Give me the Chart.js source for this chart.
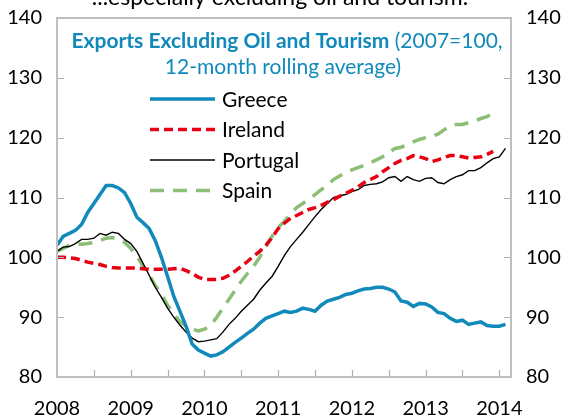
<!DOCTYPE html>
<html>
<head>
<meta charset="utf-8">
<script src="https://cdn.jsdelivr.net/npm/chart.js@4.4.1/dist/chart.umd.min.js"></script>
<style>
    html, body { margin: 0; padding: 0; background: #fff; }
    #wrap { width: 565px; height: 417px; }
</style>
</head>
<body>
<div id="wrap"><canvas id="exports-chart" width="565" height="417"></canvas></div>
<script>
    "use strict";

    // Year tick labels (one every 12 months, starting Jan 2008)
    const years = ["2008", "2009", "2010", "2011", "2012", "2013", "2014"];

    // Monthly values, Jan 2008 onwards (2007 = 100, 12-month rolling average)
    const greece = [
        102, 103.5, 104, 104.5, 105.5, 107.5, 109, 110.5, 112, 112, 111.6, 110.8,
        109, 106.7, 105.8, 104.8, 102.8, 100, 96.8, 93.5, 91, 88.5, 85.5, 84.5,
        84, 83.5, 83.7, 84.2, 85, 85.8, 86.5, 87.3, 88, 89, 89.8, 90.2,
        90.6, 91, 90.8, 91, 91.5, 91.3, 91, 92, 92.7, 93, 93.3, 93.8,
        94, 94.4, 94.7, 94.8, 95, 95, 94.7, 94.2, 92.7, 92.5, 91.8, 92.3,
        92.2, 91.7, 90.8, 90.6, 89.8, 89.3, 89.5, 88.8, 89, 89.2, 88.6, 88.5,
        88.5, 88.8
    ];
    const ireland = [
        100, 100, 99.9, 99.8, 99.5, 99.2, 99, 98.8, 98.5, 98.3, 98.2, 98.2,
        98.2, 98.2, 98.1, 98, 98, 98, 98, 98.1, 98.2, 97.8, 97.3, 96.7,
        96.3, 96.3, 96.3, 96.5, 97, 97.7, 98.5, 99.3, 100.2, 101, 102, 103.3,
        104.8, 105.7, 106.5, 107, 107.5, 108, 108.3, 108.7, 109.2, 109.6, 110.2, 110.7,
        111.2, 111.8, 112.5, 113, 113.5, 114.3, 115, 115.7, 116.2, 116.5, 117, 116.8,
        116.5, 116, 116.3, 116.7, 117, 117, 116.8, 116.6, 116.7, 116.8, 117.2, 117.7
    ];
    const portugal = [
        101, 101.7, 101.8, 102.3, 103, 103, 103.2, 104, 103.7, 104.2, 104, 103,
        102.3, 101, 99, 97, 95, 93.3, 91.5, 90, 88.7, 87.5, 86.5, 85.9,
        86, 86.2, 86.4, 87.5, 88.8, 89.8, 91, 92, 93, 94.5, 95.7, 96.8,
        98.5, 100.3, 101.8, 103, 104.2, 105.5, 106.8, 108, 109, 110, 110.3, 110.5,
        111, 111.3, 112, 112.2, 112.3, 112.6, 113.3, 113.5, 112.7, 113.5, 113, 112.7,
        113.2, 113.3, 112.5, 112.3, 113, 113.5, 113.8, 114.5, 114.5, 115, 115.8, 116.5,
        116.8, 118.2
    ];
    const spain = [
        101, 101.5, 102, 102.2, 102.2, 102.3, 102.5, 102.8, 103.2, 103.3, 103, 102.5,
        101.5, 100.2, 98.5, 97, 95.3, 93.8, 92, 90.5, 89.3, 88.5, 88, 87.7,
        88, 88.6, 90, 91.5, 93, 94.5, 96, 97.3, 98.5, 100, 101.8, 103.5,
        105, 106, 107.2, 108.3, 109, 109.7, 110.5, 111.3, 112, 113, 113.6, 114.2,
        114.6, 115, 115.4, 115.8, 116.3, 116.8, 117.5, 118.2, 118.4, 118.8, 119.3, 119.7,
        120, 120.2, 120.6, 121.3, 122, 122.2, 122.2, 122.5, 122.8, 123.2, 123.5, 124.2
    ];

    const FONT = "Lato, 'Open Sans', sans-serif";
    const TEAL = "#118abb";

    const toPoints = function (arr) {
        return arr.map(function (v, i) { return {x: i, y: v}; });
    };

    const series = [
        {label: "Greece", data: greece, color: TEAL, width: 3.5, dash: []},
        {label: "Ireland", data: ireland, color: "#e60012", width: 3.5, dash: [9, 5]},
        {label: "Portugal", data: portugal, color: "#000000", width: 1.4, dash: []},
        {label: "Spain", data: spain, color: "#8cbe78", width: 3.5, dash: [14, 9]}
    ];

    // kill the label overflow padding so the plot box sits where we want it
    const noPad = function (s) {
        s.paddingTop = 0;
        s.paddingBottom = 0;
        s.paddingLeft = 0;
        s.paddingRight = 0;
    };

    // Box around plot area plus inward tick marks
    const framePlugin = {
        id: "frame",
        afterDatasetsDraw(chart) {
            const ctx = chart.ctx;
            const a = chart.chartArea;
            const xs = chart.scales.x;
            const ys = chart.scales.y;
            ctx.save();
            ctx.strokeStyle = "#b0b0b0";
            ctx.lineWidth = 1.2;
            ctx.beginPath();
            for (let m = 6; m <= 72; m += 6) {
                const px = Math.round(xs.getPixelForValue(m)) + 0.5;
                ctx.moveTo(px, a.bottom);
                ctx.lineTo(px, a.bottom - 7);
            }
            for (let v = 90; v <= 130; v += 10) {
                const py = Math.round(ys.getPixelForValue(v)) + 0.5;
                ctx.moveTo(a.left, py);
                ctx.lineTo(a.left + 7, py);
                ctx.moveTo(a.right, py);
                ctx.lineTo(a.right - 7, py);
            }
            ctx.stroke();
            ctx.strokeStyle = "#bfbfbf";
            ctx.lineWidth = 2;
            ctx.strokeRect(a.left, a.top, a.right - a.left, a.bottom - a.top);
            ctx.restore();
        }
    };

    // Title and legend drawn inside the plot
    const insideLegend = {
        id: "insideLegend",
        afterDraw(chart) {
            const ctx = chart.ctx;
            ctx.save();

            // clipped heading above the plot
            ctx.fillStyle = "#000";
            ctx.font = "23px " + FONT;
            ctx.textAlign = "center";
            ctx.textBaseline = "alphabetic";
            ctx.fillText("...especially excluding oil and tourism.", 280, 5);

            // chart title
            ctx.textBaseline = "middle";
            ctx.textAlign = "left";
            const bold = "Exports Excluding Oil and Tourism";
            const rest = " (2007=100,";
            ctx.font = "bold 21px " + FONT;
            const w1 = ctx.measureText(bold).width;
            ctx.font = "21px " + FONT;
            const w2 = ctx.measureText(rest).width;
            const x0 = 287 - (w1 + w2) / 2;
            ctx.fillStyle = TEAL;
            ctx.font = "bold 21px " + FONT;
            ctx.fillText(bold, x0, 41);
            ctx.font = "21px " + FONT;
            ctx.fillText(rest, x0 + w1, 41);
            ctx.textAlign = "center";
            ctx.fillText("12-month rolling average)", 283, 67);

            // legend entries
            ctx.textAlign = "left";
            ctx.font = "21px " + FONT;
            series.forEach(function (s, i) {
                const y = 99 + i * 30.5;
                ctx.strokeStyle = s.color;
                ctx.lineWidth = s.width;
                ctx.setLineDash(s.dash);
                ctx.beginPath();
                ctx.moveTo(150, y);
                ctx.lineTo(215, y);
                ctx.stroke();
                ctx.setLineDash([]);
                ctx.fillStyle = "#000";
                ctx.fillText(s.label, 222, y + 1);
            });
            ctx.restore();
        }
    };

    const yTicks = {
        stepSize: 10,
        padding: 15,
        color: "#000",
        font: {family: FONT, size: 20}
    };

    const ctx1 = document.getElementById("exports-chart").getContext("2d");
    const exportsChart = new Chart(ctx1, {
        type: "line",
        data: {
            datasets: series.map(function (s) {
                return {
                    label: s.label,
                    data: toPoints(s.data),
                    borderColor: s.color,
                    borderWidth: s.width,
                    borderDash: s.dash,
                    pointRadius: 0,
                    tension: 0,
                    fill: false
                };
            })
        },
        options: {
            responsive: false,
            animation: false,
            layout: {padding: {top: 18, left: 0, right: 0, bottom: 0}},
            plugins: {
                legend: {display: false},
                tooltip: {enabled: false}
            },
            scales: {
                x: {
                    type: "linear",
                    min: 0,
                    max: 73.9,
                    afterBuildTicks: function (s) {
                        s.ticks = years.map(function (y, i) { return {value: i * 12}; });
                    },
                    afterFit: function (s) { s.height = 40; noPad(s); },
                    ticks: {
                        autoSkip: false,
                        maxRotation: 0,
                        padding: 20,
                        color: "#000",
                        font: {family: FONT, size: 20},
                        callback: function (v) { return years[Math.round(v / 12)]; }
                    },
                    grid: {display: false, drawTicks: false},
                    border: {display: false}
                },
                y: {
                    position: "left",
                    min: 80,
                    max: 140,
                    afterFit: function (s) { s.width = 57; noPad(s); },
                    ticks: yTicks,
                    grid: {display: false, drawTicks: false},
                    border: {display: false}
                },
                y1: {
                    position: "right",
                    min: 80,
                    max: 140,
                    afterFit: function (s) { s.width = 54; noPad(s); },
                    ticks: yTicks,
                    grid: {display: false, drawTicks: false},
                    border: {display: false}
                }
            }
        },
        plugins: [framePlugin, insideLegend]
    });
    useConst(exportsChart);

    function useConst(c) {
    }
</script>
</body>
</html>
